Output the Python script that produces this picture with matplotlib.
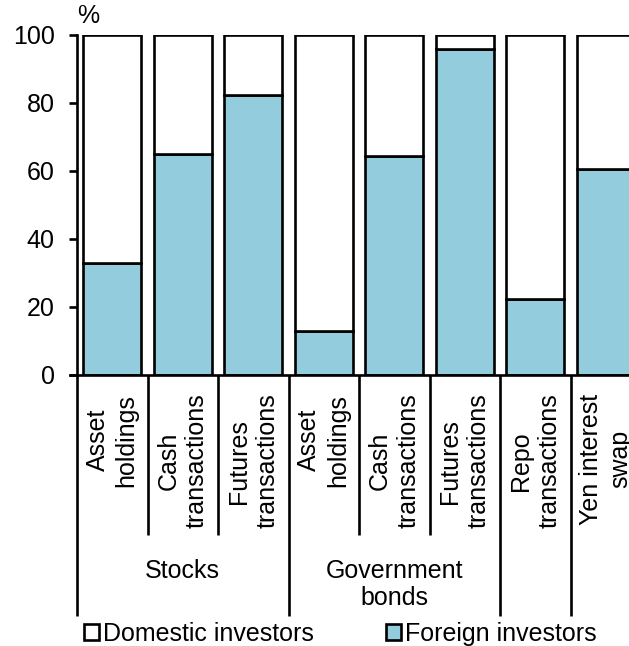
import matplotlib
matplotlib.use("Agg")
import matplotlib.pyplot as plt
import matplotlib.transforms as mtransforms
from matplotlib.patches import Patch

plt.rcParams['font.family'] = ['Liberation Sans', 'DejaVu Sans']

# data
categories = ['Asset\nholdings', 'Cash\ntransactions', 'Futures\ntransactions',
              'Asset\nholdings', 'Cash\ntransactions', 'Futures\ntransactions',
              'Repo\ntransactions', 'Yen interest\nswap']
foreign = [33, 65, 82.5, 13, 64.5, 96, 22.5, 60.5]
domestic = [67, 35, 17.5, 87, 35.5, 4, 77.5, 39.5]
groups = ['Stocks', 'Government\nbonds', '', '']
group_bounds = [(0, 3), (3, 6), (6, 7), (7, 8)]
yticks = [0, 20, 40, 60, 80, 100]

W, H = 629, 646
fig = plt.figure(figsize=(W / 100, H / 100), dpi=100)
fig.patch.set_facecolor('white')

# axes extends past right edge (the original is cropped)
ax = fig.add_axes([77 / W, 1 - 375 / H, 564 / W, 340 / H])

blue = '#93CDDD'
lw = 1.9
x = list(range(len(categories)))
ax.bar(x, foreign, width=0.82, color=blue, edgecolor='black', linewidth=lw, zorder=2)
ax.bar(x, domestic, bottom=foreign, width=0.82, color='white', edgecolor='black',
       linewidth=lw, zorder=2)

ax.set_xlim(-0.5, 7.5)
ax.set_ylim(0, 100)
ax.set_yticks(yticks)
ax.tick_params(axis='y', labelsize=18, length=6, width=lw, direction='out', pad=10)
ax.set_xticks([])
for s in ['top', 'right']:
    ax.spines[s].set_visible(False)
ax.spines['left'].set_linewidth(lw)
ax.spines['bottom'].set_linewidth(lw)
ax.spines['bottom'].set_bounds(-0.6, 7.5)

ax.text(0.0, 1.055, '%', transform=ax.transAxes, fontsize=18, ha='left', va='center')

trans = mtransforms.blended_transform_factory(ax.transData, ax.transAxes)

# category labels
for i, lab in enumerate(categories):
    ax.text(i, -0.055, lab, transform=trans, rotation=90, ha='center', va='top',
            multialignment='center', fontsize=18, linespacing=1.25, clip_on=False)

# dividers
outer = set()
for a, b in group_bounds:
    outer.add(a - 0.5)
    outer.add(b - 0.5)
for k in range(len(categories) + 1):
    xb = k - 0.5
    ybot = -0.71 if xb in outer else -0.47
    ax.plot([xb, xb], [0, ybot], transform=trans, color='black', lw=lw,
            clip_on=False, solid_capstyle='butt')

# group labels
for g, (a, b) in zip(groups, group_bounds):
    if g:
        ax.text((a + b - 1) / 2, -0.54, g, transform=trans, ha='center', va='top',
                fontsize=18, linespacing=1.2, clip_on=False)

handles = [Patch(facecolor='white', edgecolor='black', linewidth=lw, label='Domestic investors'),
           Patch(facecolor=blue, edgecolor='black', linewidth=lw, label='Foreign investors')]
fig.legend(handles=handles, loc='center left', bbox_to_anchor=(84 / W, 1 - 634 / H),
           ncol=2, frameon=False, fontsize=18, handlelength=0.6, handleheight=0.6,
           handletextpad=0.15, columnspacing=2.9, borderpad=0, borderaxespad=0)

fig.savefig('out.png', dpi=100, facecolor='white')
